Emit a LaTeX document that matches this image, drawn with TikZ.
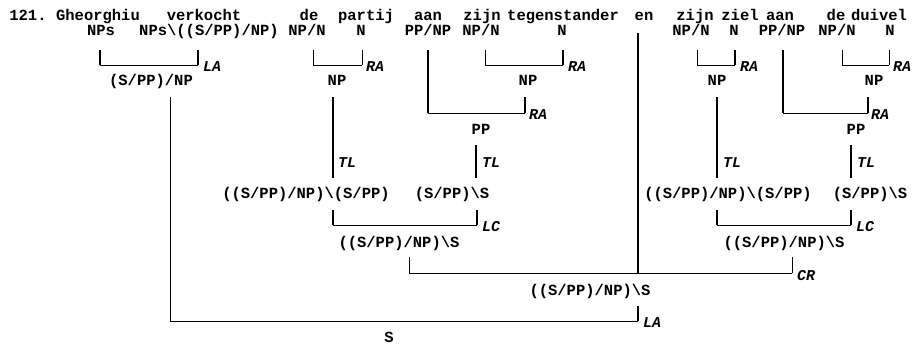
\documentclass[tikz,border=0pt]{standalone}
\usepackage{fontspec}
\newfontfamily\catfont{Liberation Mono}
\tikzset{
  txt/.style={font=\catfont\bfseries\fontsize{15.5}{16}\selectfont, inner sep=0pt, anchor=base},
  rl/.style={font=\catfont\bfseries\itshape\fontsize{15}{16}\selectfont, inner sep=0pt, anchor=base west},
  hl/.style={line width=0.8pt},
  vn/.style={line width=0.8pt},
  vm/.style={line width=1.2pt},
  vt/.style={line width=1.8pt},
}
\begin{document}
\begin{tikzpicture}[x=1pt,y=-1pt]
\useasboundingbox (0,0) rectangle (917,345);
% words
\node[txt] (w0) at (28,21) {121.};
\node[txt] (w1) at (98,21) {Gheorghiu};
\node[txt] (w2) at (204,21) {verkocht};
\node[txt] (w3) at (309,21) {de};
\node[txt] (w4) at (366,21) {partij};
\node[txt] (w5) at (428,21) {aan};
\node[txt] (w6) at (482,21) {zijn};
\node[txt] (w7) at (563,21) {tegenstander};
\node[txt] (w8) at (644,21) {en};
\node[txt] (w9) at (695,21) {zijn};
\node[txt] (w10) at (740,21) {ziel};
\node[txt] (w11) at (780,21) {aan};
\node[txt] (w12) at (836,21) {de};
\node[txt] (w13) at (879,21) {duivel};
% lexical categories
\node[txt] (c1) at (101,36) {NPs};
\node[txt] (c2) at (209,36) {NPs\textbackslash((S/PP)/NP)};
\node[txt] (c3) at (307,36) {NP/N};
\node[txt] (c4) at (361,36) {N};
\node[txt] (c5) at (428,36) {PP/NP};
\node[txt] (c6) at (481,36) {NP/N};
\node[txt] (c7) at (562,36) {N};
\node[txt] (c9) at (691,36) {NP/N};
\node[txt] (c10) at (734,36) {N};
\node[txt] (c11) at (782,36) {PP/NP};
\node[txt] (c12) at (837,36) {NP/N};
\node[txt] (c13) at (890,36) {N};
% row 4
\node[txt] (d1) at (151,85) {(S/PP)/NP};
\node[txt] (d2) at (337,85) {NP};
\node[txt] (d3) at (528,85) {NP};
\node[txt] (d4) at (717,85) {NP};
\node[txt] (d5) at (874,85) {NP};
% PP
\node[txt] (p1) at (481,134) {PP};
\node[txt] (p2) at (856,134) {PP};
% type-raised
\node[txt] (t1) at (306,198) {((S/PP)/NP)\textbackslash(S/PP)};
\node[txt] (t2) at (452,198) {(S/PP)\textbackslash S};
\node[txt] (t3) at (728,198) {((S/PP)/NP)\textbackslash(S/PP)};
\node[txt] (t4) at (870,198) {(S/PP)\textbackslash S};
% composed
\node[txt] (k1) at (399,247) {((S/PP)/NP)\textbackslash S};
\node[txt] (k2) at (784,247) {((S/PP)/NP)\textbackslash S};
% coordinated
\node[txt] (co) at (590,295) {((S/PP)/NP)\textbackslash S};
% result
\node[txt] (s) at (389,342) {S};

% bracket 1: LA
\draw[vm] (100,50) coordinate (a1t) -- (100,65) coordinate (a1b);
\draw[vm] (198,50) coordinate (a2t) -- (198,65) coordinate (a2b);
\draw[hl] (a1b) -- (a2b);
\node[rl] (la1) at (203,71) {LA};
% de partij
\draw[vn] (313,50) coordinate (b1t) -- (313,65) coordinate (b1b);
\draw[vn] (362,50) coordinate (b2t) -- (362,65) coordinate (b2b);
\draw[hl] (b1b) -- (b2b);
\node[rl] (ra1) at (366,71) {RA};
% zijn tegenstander
\draw[vn] (485,50) coordinate (e1t) -- (485,65) coordinate (e1b);
\draw[vm] (563,50) coordinate (e2t) -- (563,65) coordinate (e2b);
\draw[hl] (e1b) -- (e2b);
\node[rl] (ra2) at (568,71) {RA};
% zijn ziel
\draw[vn] (697,50) coordinate (f1t) -- (697,65) coordinate (f1b);
\draw[vm] (735,50) coordinate (f2t) -- (735,65) coordinate (f2b);
\draw[hl] (f1b) -- (f2b);
\node[rl] (ra3) at (740,71) {RA};
% de duivel
\draw[vn] (842,50) coordinate (g1t) -- (842,65) coordinate (g1b);
\draw[vn] (889,50) coordinate (g2t) -- (889,65) coordinate (g2b);
\draw[hl] (g1b) -- (g2b);
\node[rl] (ra4) at (893,71) {RA};
% aan + NP -> PP (left)
\draw[vt] (428,50) coordinate (h1t) -- (428,113) coordinate (h1b);
\draw[vt] (525,97) coordinate (h2t) -- (525,113) coordinate (h2b);
\draw[hl] (h1b) -- (h2b);
\node[rl] (ra5) at (529,119) {RA};
% aan + NP -> PP (right)
\draw[vt] (783,50) coordinate (i1t) -- (783,113) coordinate (i1b);
\draw[vt] (868,97) coordinate (i2t) -- (868,113) coordinate (i2b);
\draw[hl] (i1b) -- (i2b);
\node[rl] (ra6) at (871,119) {RA};
% TL lines
\draw[vt] (333,97) coordinate (j1t) -- (333,178) coordinate (j1b);
\node[rl] (tl1) at (338,167) {TL};
\draw[vt] (476,145) coordinate (j2t) -- (476,178) coordinate (j2b);
\node[rl] (tl2) at (482,167) {TL};
\draw[vt] (717,97) coordinate (j3t) -- (717,178) coordinate (j3b);
\node[rl] (tl3) at (723,167) {TL};
\draw[vt] (851,145) coordinate (j4t) -- (851,178) coordinate (j4b);
\node[rl] (tl4) at (857,167) {TL};
% LC left
\draw[vt] (333,210) coordinate (l1t) -- (333,225) coordinate (l1b);
\draw[vt] (477,210) coordinate (l2t) -- (477,225) coordinate (l2b);
\draw[hl] (l1b) -- (l2b);
\node[rl] (lc1) at (482,231) {LC};
% LC right
\draw[vt] (717,210) coordinate (m1t) -- (717,225) coordinate (m1b);
\draw[vt] (851,210) coordinate (m2t) -- (851,225) coordinate (m2b);
\draw[hl] (m1b) -- (m2b);
\node[rl] (lc2) at (856,231) {LC};
% CR
\draw[vn] (409,257) coordinate (n1t) -- (409,273) coordinate (n1b);
\draw[vn] (792,257) coordinate (n2t) -- (792,273) coordinate (n2b);
\draw[hl] (n1b) -- (n2b);
\draw[vt] (638,33) coordinate (ent) -- (638,273) coordinate (enb);
\node[rl] (cr) at (797,280) {CR};
% final LA
\draw[vn] (170,97) coordinate (o1t) -- (170,321) coordinate (o1b);
\draw[vm] (638,306) coordinate (o2t) -- (638,321) coordinate (o2b);
\draw[hl] (o1b) -- (o2b);
\node[rl] (la2) at (643,327) {LA};
\end{tikzpicture}
\end{document}
